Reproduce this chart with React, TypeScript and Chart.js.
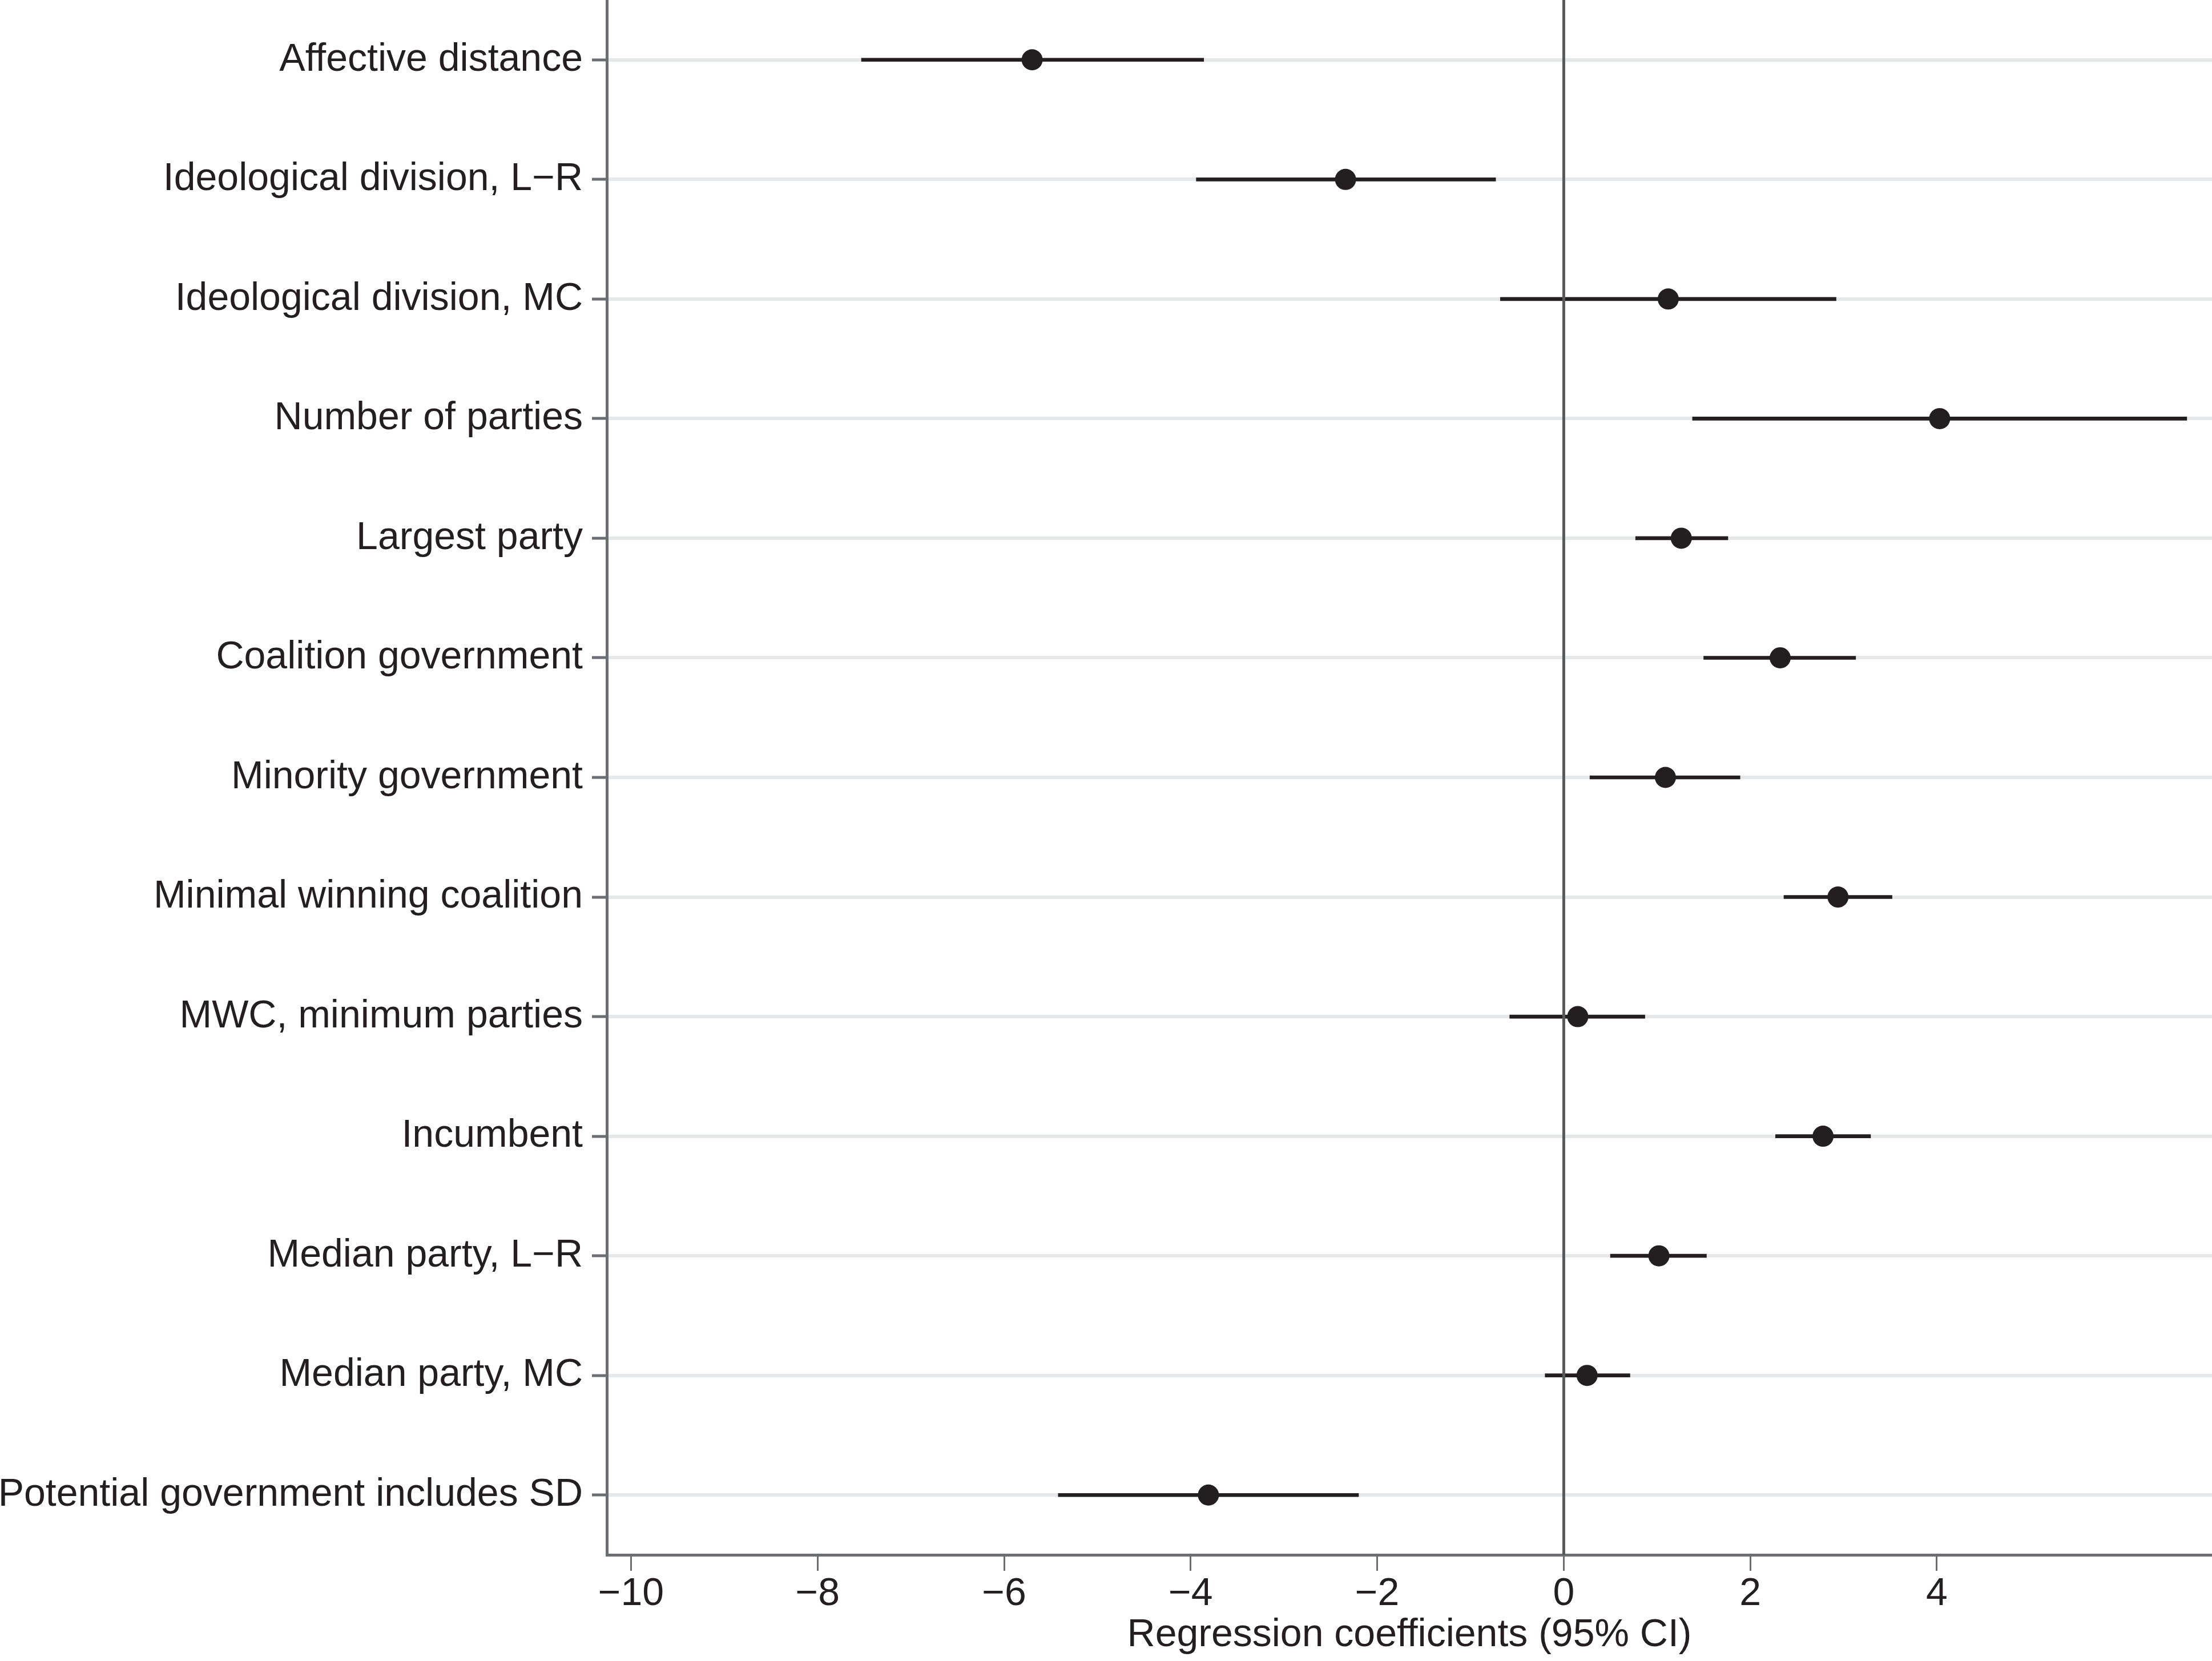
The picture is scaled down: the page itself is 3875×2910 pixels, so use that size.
import React, { useEffect, useRef } from "react";
import { Chart, registerables } from "chart.js";

Chart.register(...registerables);

// Predictors, top to bottom
const categories = [
  "Affective distance",
  "Ideological division, L\u2212R",
  "Ideological division, MC",
  "Number of parties",
  "Largest party",
  "Coalition government",
  "Minority government",
  "Minimal winning coalition",
  "MWC, minimum parties",
  "Incumbent",
  "Median party, L\u2212R",
  "Median party, MC",
  "Potential government includes SD",
];

// Point estimates and 95% confidence bounds
const coefficients = [-5.70, -2.34, 1.12, 4.03, 1.26, 2.32, 1.09, 2.94, 0.15, 2.78, 1.02, 0.25, -3.81];
const ciLower = [-7.53, -3.94, -0.68, 1.38, 0.77, 1.50, 0.28, 2.36, -0.58, 2.27, 0.50, -0.20, -5.42];
const ciUpper = [-3.86, -0.73, 2.92, 6.68, 1.76, 3.13, 1.89, 3.52, 0.87, 3.29, 1.53, 0.71, -2.20];

// Horizontal axis
const xTicks = [-10, -8, -6, -4, -2, 0, 2, 4];
const xMin = -10.26;
const xMax = 6.95;
const xTitle = "Regression coefficients (95% CI)";

const INK = "#231f20";
const AXIS = "#6d6e71";
const GRID = "#e6e7e8";
const ZERO = "#58595b";
const FONT = "'Liberation Sans', Arial, Helvetica, sans-serif";
const FONT_SIZE = 68;

const fmt = (v: number) => (v < 0 ? "\u2212" + Math.abs(v) : String(v));

// Scales keep no extra room for their end labels; the plot fills the frame
const noScalePadding = (scale: any) => {
  scale.paddingTop = 0;
  scale.paddingBottom = 0;
  scale.paddingLeft = 0;
  scale.paddingRight = 0;
};

// Reference line at zero, drawn over the interval bars but under the markers
const zeroLine = {
  id: "zeroLine",
  afterDatasetDraw(chart: any, args: any) {
    if (args.index !== 0) return;
    const { ctx, chartArea } = chart;
    const x = chart.scales.x.getPixelForValue(0);
    ctx.save();
    ctx.strokeStyle = ZERO;
    ctx.lineWidth = 5;
    ctx.beginPath();
    ctx.moveTo(x, chartArea.top);
    ctx.lineTo(x, chartArea.bottom);
    ctx.stroke();
    ctx.restore();
  },
};

export default function App() {
  const canvasRef = useRef<HTMLCanvasElement | null>(null);

  useEffect(() => {
    if (!canvasRef.current) return;
    const chart = new Chart(canvasRef.current, {
      type: "bar",
      data: {
        labels: categories,
        datasets: [
          {
            type: "bar",
            indexAxis: "y",
            data: categories.map((_, i) => [ciLower[i], ciUpper[i]]),
            backgroundColor: INK,
            borderWidth: 0,
            barThickness: 6,
            order: 2,
          } as any,
          {
            type: "scatter",
            data: categories.map((c, i) => ({ x: coefficients[i], y: c })),
            backgroundColor: INK,
            borderWidth: 0,
            pointRadius: 18.5,
            pointHoverRadius: 18.5,
            order: 1,
          } as any,
        ],
      },
      options: {
        animation: false,
        responsive: true,
        maintainAspectRatio: false,
        indexAxis: "y",
        layout: { padding: 0, autoPadding: false },
        plugins: {
          legend: { display: false },
          tooltip: { enabled: false },
        },
        scales: {
          x: {
            type: "linear",
            position: "bottom",
            min: xMin,
            max: xMax,
            afterBuildTicks: (scale: any) => {
              scale.ticks = xTicks.map((v) => ({ value: v }));
            },
            afterFit: (scale: any) => {
              scale.height = 186;
              noScalePadding(scale);
            },
            grid: {
              drawOnChartArea: false,
              drawTicks: true,
              tickLength: 28,
              tickColor: AXIS,
              tickWidth: 3,
            },
            border: { display: true, color: AXIS, width: 5 },
            ticks: {
              autoSkip: false,
              maxRotation: 0,
              padding: 0,
              color: INK,
              font: { family: FONT, size: FONT_SIZE },
              callback: (v: any) => fmt(Number(v)),
            },
            title: {
              display: true,
              text: xTitle,
              color: INK,
              font: { family: FONT, size: FONT_SIZE },
              padding: { top: 0, bottom: 4 },
            },
          },
          y: {
            type: "category",
            position: "left",
            offset: true,
            afterFit: (scale: any) => {
              scale.width = 1063;
              noScalePadding(scale);
            },
            grid: {
              offset: false,
              drawOnChartArea: true,
              color: GRID,
              lineWidth: 6,
              tickLength: 26,
              tickColor: AXIS,
              tickWidth: 5,
            },
            border: { display: true, color: AXIS, width: 5 },
            ticks: {
              autoSkip: false,
              padding: 16,
              color: INK,
              font: { family: FONT, size: FONT_SIZE },
            },
          },
        },
      } as any,
      plugins: [zeroLine],
    });
    return () => chart.destroy();
  }, []);

  return (
    <div style={{ position: "absolute", left: 0, top: 0, width: 3875, height: 2910, background: "#ffffff" }}>
      <canvas ref={canvasRef} />
    </div>
  );
}
